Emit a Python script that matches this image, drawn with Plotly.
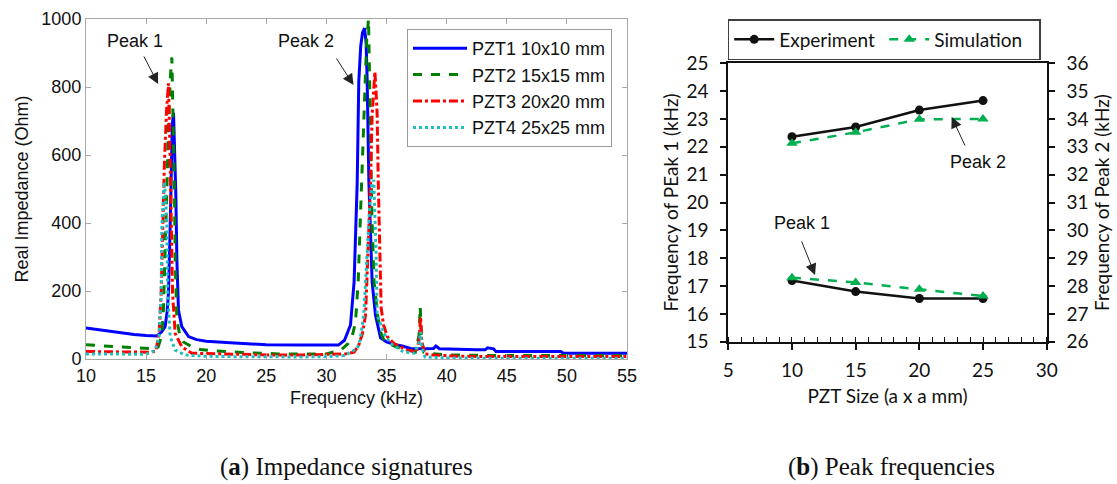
import plotly.graph_objects as go

# ---------------- (a) Impedance signatures ----------------
freq_pzt1 = [10, 11, 12, 13, 14, 15, 15.9, 16.3, 16.58, 16.75, 16.86, 17.0, 17.08, 17.18, 17.28, 17.38,
             17.47, 17.56, 17.69, 17.97, 18.53, 19.2, 20, 22, 25, 28, 30, 31, 31.5, 32, 32.3, 32.56,
             32.69, 32.85, 33.0, 33.17, 33.3, 33.39, 33.53, 33.8, 34.08, 34.5, 35.0, 35.6, 36.3, 37.0,
             38.0, 38.9, 39.1, 39.4, 42.5, 43.2, 43.4, 43.9, 44.1, 49.5, 49.7, 55]
imp_pzt1 = [91, 86, 81, 77, 72, 69, 68, 80, 95, 140, 193, 389, 585, 690, 724, 620,
            487, 291, 144, 95, 66, 57, 52, 48, 42, 41, 41, 41, 55, 100, 227, 521,
            816, 920, 960, 973, 930, 816, 521, 227, 129, 62, 50, 43, 38, 31,
            30, 31, 38, 30, 27, 27, 33, 30, 22, 22, 17, 17]

freq_pzt2 = [10, 11, 12, 13, 14, 15, 15.6, 16.0, 16.3, 16.44, 16.58, 16.72, 16.86, 17.0, 17.14, 17.22,
             17.3, 17.36, 17.42, 17.56, 17.8, 18.1, 18.8, 19.5, 20.6, 23, 26, 30, 31.2, 31.8, 32.2,
             32.42, 32.64, 32.83, 33.03, 33.19, 33.35, 33.5, 33.58, 33.65, 33.78, 33.96, 34.25, 34.5,
             34.78, 35.06, 35.5, 36.2, 37.4, 37.7, 37.8, 37.9, 38.1, 38.4, 40, 45, 55]
imp_pzt2 = [42, 39, 37, 35, 33, 31, 30, 35, 70, 144, 291, 487, 683, 820, 887, 780,
            600, 487, 291, 115, 70, 50, 36, 28, 24, 19, 15, 15, 26, 45, 75,
            110, 227, 424, 620, 816, 940, 1000, 850, 620, 424, 227, 130, 80,
            55, 52, 40, 31, 21, 70, 154, 60, 20, 17, 12, 10, 10]

freq_pzt3 = [10, 12, 14, 15.2, 15.8, 16.08, 16.25, 16.36, 16.53, 16.7, 16.86, 17.0, 17.08, 17.2, 17.42,
             17.97, 18.8, 20, 22, 25, 28, 30, 31.58, 32.3, 32.69, 33.0, 33.25, 33.47, 33.67, 33.8,
             33.92, 34.03, 34.12, 34.22, 34.31, 34.42, 34.55, 34.75, 35.06, 35.6, 36.7, 37.5, 37.72,
             37.83, 37.93, 38.2, 38.9, 41, 45, 55]
imp_pzt3 = [22, 21, 20, 20, 22, 75, 193, 389, 585, 730, 811, 585, 389, 193, 75,
            36, 17, 16, 14, 12, 12, 13, 15, 20, 41, 76, 129, 326, 521, 718,
            800, 845, 790, 718, 521, 326, 150, 100, 66, 46, 26, 21, 60,
            124, 50, 15, 12, 8, 7, 7]

freq_pzt4 = [10, 12, 14, 15.0, 15.75, 16.08, 16.25, 16.31, 16.44, 16.53, 16.63, 16.72, 16.8, 17.0, 17.42,
             18.25, 19, 20, 22, 25, 28, 30, 31.5, 32.56, 32.8, 33.1, 33.39, 33.6, 33.8, 33.94,
             34.03, 34.12, 34.22, 34.5, 34.78, 35.33, 36.4, 37.3, 37.72, 37.83, 37.93, 38.2, 40, 45, 55]
imp_pzt4 = [15, 14, 14, 14, 25, 66, 193, 389, 480, 521, 470, 389, 193, 66, 26,
            12, 10, 8, 7, 6, 6, 7, 10, 31, 56, 129, 326, 450, 515, 526,
            420, 326, 129, 100, 76, 46, 21, 17, 50, 80, 35, 6, 3, 2, 2]

series_names = ["PZT1 10x10 mm", "PZT2 15x15 mm", "PZT3 20x20 mm", "PZT4 25x25 mm"]
freq_ticks = [10, 15, 20, 25, 30, 35, 40, 45, 50, 55]
imp_ticks = [0, 200, 400, 600, 800, 1000]

# ---------------- (b) Peak frequencies ----------------
pzt_size = [10, 15, 20, 25]
exp_peak1 = [17.2, 16.8, 16.55, 16.55]
sim_peak1 = [17.3, 17.13, 16.88, 16.64]
exp_peak2 = [33.36, 33.71, 34.32, 34.66]
sim_peak2 = [33.13, 33.52, 33.99, 34.0]

W, H = 1117, 484


def px(x):
    return x / W


def py(y):
    return 1 - y / H


fig = go.Figure()

styles = [
    dict(color="#0000ff", dash="solid"),
    dict(color="#008000", dash="dash"),
    dict(color="#ff0000", dash="dashdot"),
    dict(color="#1fbfbf", dash="dot"),
]
for (f, z), name, st in zip(
        [(freq_pzt1, imp_pzt1), (freq_pzt2, imp_pzt2), (freq_pzt3, imp_pzt3), (freq_pzt4, imp_pzt4)],
        series_names, styles):
    fig.add_trace(go.Scatter(x=f, y=z, mode="lines", name=name,
                             line=dict(color=st["color"], dash=st["dash"], width=3),
                             xaxis="x", yaxis="y", legend="legend"))

BLACK = "#111111"
GREEN = "#00b050"
fig.add_trace(go.Scatter(x=pzt_size, y=exp_peak1, mode="lines+markers", name="Experiment",
                         line=dict(color=BLACK, width=2.5), marker=dict(symbol="circle", size=9, color=BLACK),
                         xaxis="x2", yaxis="y2", legend="legend2"))
fig.add_trace(go.Scatter(x=pzt_size, y=sim_peak1, mode="lines+markers", name="Simulation",
                         line=dict(color=GREEN, width=2.5, dash="dash"),
                         marker=dict(symbol="triangle-up", size=10, color=GREEN),
                         xaxis="x2", yaxis="y2", legend="legend2"))
fig.add_trace(go.Scatter(x=pzt_size, y=exp_peak2, mode="lines+markers", name="Experiment",
                         line=dict(color=BLACK, width=2.5), marker=dict(symbol="circle", size=9, color=BLACK),
                         xaxis="x2", yaxis="y3", showlegend=False))
fig.add_trace(go.Scatter(x=pzt_size, y=sim_peak2, mode="lines+markers", name="Simulation",
                         line=dict(color=GREEN, width=2.5, dash="dash"),
                         marker=dict(symbol="triangle-up", size=10, color=GREEN),
                         xaxis="x2", yaxis="y3", showlegend=False))

ARIAL = "Liberation Sans, Arial, sans-serif"
CAL = "Lato, Carlito, sans-serif"
GRAY = "#a8a8a8"
FS = 18

fig.update_layout(
    width=W, height=H, margin=dict(l=0, r=0, t=0, b=0, autoexpand=False),
    paper_bgcolor="white", plot_bgcolor="white",
    font=dict(family=ARIAL, size=FS, color=BLACK),
    xaxis=dict(domain=[px(86), px(627)], range=[10, 55], tickvals=freq_ticks, automargin=False,
               showline=True, linecolor=GRAY, linewidth=1, mirror="ticks",
               ticks="inside", ticklen=5, tickcolor=GRAY, showgrid=False, zeroline=False,
               ticklabelstandoff=0,
               tickfont=dict(family=ARIAL, size=FS, color=BLACK),
               title=dict(text="Frequency (kHz)", font=dict(family=ARIAL, size=FS), standoff=6)),
    yaxis=dict(domain=[py(359), py(19)], range=[0, 1000], tickvals=imp_ticks, anchor="x", automargin=False,
               showline=True, linecolor=GRAY, linewidth=1, mirror="ticks",
               ticks="inside", ticklen=5, tickcolor=GRAY, showgrid=False, zeroline=False,
               tickfont=dict(family=ARIAL, size=FS, color=BLACK),
               title=dict(text="Real Impedance (Ohm)", font=dict(family=ARIAL, size=FS), standoff=8)),
    xaxis2=dict(domain=[px(728.3), px(1046.7)], range=[5, 30], dtick=5, tick0=5, anchor="y2", automargin=False,
                showline=True, linecolor=BLACK, linewidth=2, mirror=True,
                ticks="outside", ticklen=6, tickwidth=1.5, tickcolor=BLACK,
                minor=dict(ticks="inside", dtick=1, ticklen=5, tickwidth=1, tickcolor=BLACK),
                showgrid=False, zeroline=False, ticklabelstandoff=4,
                tickfont=dict(family=CAL, size=19, color=BLACK),
                title=dict(text="PZT Size (a x a mm)", font=dict(family=CAL, size=19), standoff=10)),
    yaxis2=dict(domain=[py(341.7), py(63.3)], range=[15, 25], dtick=1, anchor="x2", automargin=False,
                showline=True, linecolor=BLACK, linewidth=2,
                ticks="outside", ticklen=6, tickwidth=1.5, tickcolor=BLACK,
                showgrid=False, zeroline=False, ticklabelstandoff=8,
                tickfont=dict(family=CAL, size=19, color=BLACK),
                title=dict(text="Frequency of PEak 1 (kHz)", font=dict(family=CAL, size=19), standoff=3)),
    yaxis3=dict(range=[26, 36], dtick=1, overlaying="y2", side="right", anchor="x2", automargin=False,
                showline=True, linecolor=BLACK, linewidth=2,
                ticks="outside", ticklen=6, tickwidth=1.5, tickcolor=BLACK,
                showgrid=False, zeroline=False, ticklabelstandoff=8,
                tickfont=dict(family=CAL, size=19, color=BLACK),
                title=dict(text="Frequency of Peak 2 (kHz)", font=dict(family=CAL, size=19), standoff=8)),
    legend=dict(x=px(407), y=py(29), xanchor="left", yanchor="top", itemwidth=54,
                bgcolor="white", bordercolor="#9a9a9a", borderwidth=1,
                font=dict(family=ARIAL, size=FS, color=BLACK), tracegroupgap=0),
    legend2=dict(x=px(727.7), y=py(19), xanchor="left", yanchor="top", orientation="h",
                 itemwidth=40, entrywidth=100,
                 bgcolor="white", bordercolor="#404040", borderwidth=1.5,
                 font=dict(family=CAL, size=19, color=BLACK)),
)

ann = []
arrow_common = dict(showarrow=True, arrowhead=2, arrowsize=2.2, arrowwidth=1,
                    arrowcolor="#222222", text="", standoff=0)
ann.append(dict(xref="x", yref="y", x=16.0, y=809, ax=-15, ay=-29, **arrow_common))
ann.append(dict(xref="x", yref="y", x=32.25, y=806, ax=-18, ay=-28, **arrow_common))
ann.append(dict(xref="x2", yref="y2", x=22.54, y=23.07, ax=14, ay=30, **arrow_common))
ann.append(dict(xref="x2", yref="y2", x=11.81, y=17.4, ax=-14, ay=-35, **arrow_common))
lab = dict(showarrow=False, xanchor="center", yanchor="middle", font=dict(family=ARIAL, size=18, color=BLACK))
ann.append(dict(xref="x", yref="y", x=14.08, y=936, text="Peak 1", **lab))
ann.append(dict(xref="x", yref="y", x=28.33, y=936, text="Peak 2", **lab))
ann.append(dict(xref="x2", yref="y2", x=24.6, y=21.45, text="Peak 2", **lab))
ann.append(dict(xref="x2", yref="y2", x=10.76, y=19.26, text="Peak 1", **lab))
cap = dict(showarrow=False, xref="paper", yref="paper", xanchor="center", yanchor="middle",
           font=dict(family="Liberation Serif, serif", size=25, color=BLACK))
ann.append(dict(x=px(346), y=py(467), text="(<b>a</b>) Impedance signatures", **cap))
ann.append(dict(x=px(891), y=py(467), text="(<b>b</b>) Peak frequencies", **cap))

fig.update_layout(annotations=ann)

fig.write_html("out.html")
